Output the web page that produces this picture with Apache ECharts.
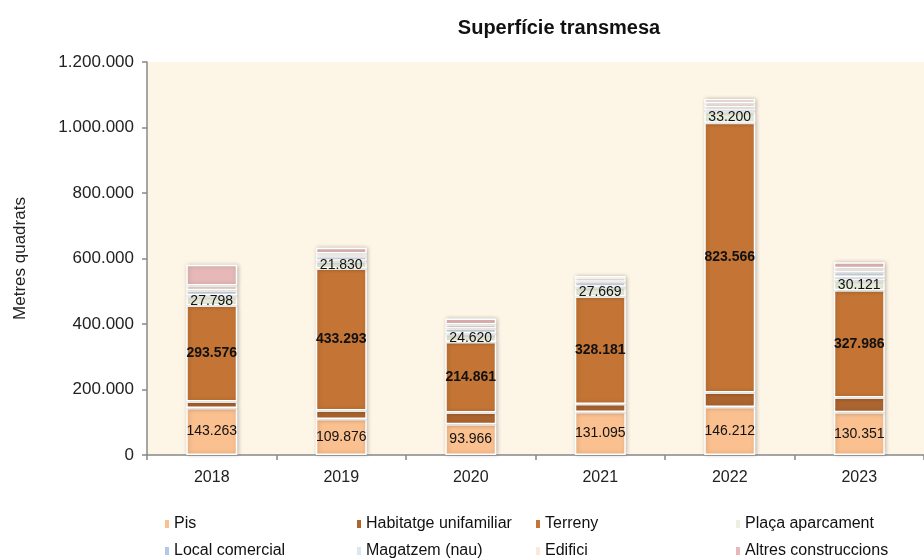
<!DOCTYPE html>
<html>
<head>
<meta charset="utf-8">
<script src="https://cdn.jsdelivr.net/npm/echarts@6/dist/echarts.min.js"></script>
<style>
  html, body { margin: 0; padding: 0; background: #fff; }
  #chart { width: 924px; height: 559px; }
</style>
</head>
<body>
<div id="chart"></div>
<script>
const years = ['2018', '2019', '2020', '2021', '2022', '2023'];
const pis = [143263, 109876, 93966, 131095, 146212, 130351];
const habitatge = [20000, 26000, 36000, 25000, 45000, 45000];
const terreny = [293576, 433293, 214861, 328181, 823566, 327986];
const placa = [27798, 21830, 24620, 27669, 33200, 30121];
const local = [3000, 2000, 2000, 2000, 4000, 10000];
const magatzem = [15000, 12000, 15000, 15000, 10000, 15000];
const edifici = [15000, 10000, 12000, 12000, 13000, 12000];
const altres = [63000, 18000, 18000, 6000, 12000, 18000];

const yTicks = [0, 200000, 400000, 600000, 800000, 1000000, 1200000];

const fmt = v => String(v).replace(/\B(?=(\d{3})+(?!\d))/g, '.');
const fontFamily = 'Liberation Sans, Arial, sans-serif';

const seriesDefs = [
  {name: 'Pis', data: pis, color: '#fac08f', label: 'normal'},
  {name: 'Habitatge unifamiliar', data: habitatge, color: '#ad652f'},
  {name: 'Terreny', data: terreny, color: '#c47535', label: 'bold'},
  {name: 'Plaça aparcament', data: placa, color: '#ebf1de', label: 'normal'},
  {name: 'Local comercial', data: local, color: '#b4c7e7'},
  {name: 'Magatzem (nau)', data: magatzem, color: '#dce6f2'},
  {name: 'Edifici', data: edifici, color: '#fde9d9'},
  {name: 'Altres construccions', data: altres, color: '#e6b9b8'},
];

// legend grid: 4 columns x 2 rows
const legendCols = [158, 350, 529, 729];
const legendRows = [511, 538];

const series = seriesDefs.map(def => ({
  name: def.name,
  type: 'bar',
  stack: 'total',
  barWidth: 51,
  data: def.data,
  itemStyle: {
    color: def.color,
    borderColor: '#ffffff',
    borderWidth: 1.5,
    shadowColor: 'rgba(0,0,0,0.22)',
    shadowBlur: 4,
    shadowOffsetX: 1,
    shadowOffsetY: 0,
  },
  label: {
    show: !!def.label,
    position: 'inside',
    color: '#111',
    fontFamily: fontFamily,
    fontSize: 14,
    fontWeight: def.label === 'bold' ? 'bold' : 'normal',
    formatter: p => fmt(p.value),
  },
  emphasis: {disabled: true},
}));

const legends = seriesDefs.map((def, index) => ({
  data: [def.name],
  left: legendCols[index % 4],
  top: legendRows[Math.floor(index / 4)],
  itemWidth: 6,
  itemHeight: 10,
  itemGap: 0,
  icon: 'rect',
  selectedMode: false,
  textStyle: {fontFamily: fontFamily, fontSize: 16, color: '#111', padding: [0, 0, 0, -1]},
}));

const chart = echarts.init(document.getElementById('chart'), null, {renderer: 'canvas'});
chart.setOption({
  animation: false,
  backgroundColor: '#ffffff',
  title: {
    text: 'Superfície transmesa',
    left: 554,
    top: 13,
    textAlign: 'center',
    textStyle: {fontFamily: fontFamily, fontSize: 20, fontWeight: 'bold', color: '#111'},
  },
  grid: {
    left: 147,
    right: -4,
    top: 62,
    bottom: 104,
    show: true,
    backgroundColor: '#fdf5e6',
    borderWidth: 0,
  },
  legend: legends,
  xAxis: {
    type: 'category',
    data: years,
    axisLine: {lineStyle: {color: '#888', width: 1.5}},
    axisTick: {show: true, alignWithLabel: false, length: 5, lineStyle: {color: '#888', width: 1.5}},
    axisLabel: {color: '#222', fontFamily: fontFamily, fontSize: 16, margin: 15},
  },
  yAxis: {
    type: 'value',
    min: yTicks[0],
    max: yTicks[yTicks.length - 1],
    interval: yTicks[1] - yTicks[0],
    name: 'Metres quadrats',
    nameLocation: 'middle',
    nameRotate: 90,
    nameGap: 118,
    nameTextStyle: {fontFamily: fontFamily, fontSize: 17, color: '#222'},
    splitLine: {show: false},
    axisLine: {show: true, lineStyle: {color: '#888', width: 1.5}},
    axisTick: {show: true, length: 5, lineStyle: {color: '#888', width: 1.5}},
    axisLabel: {color: '#222', fontFamily: fontFamily, fontSize: 17, margin: 13, formatter: v => fmt(v)},
  },
  series: series,
});
</script>
</body>
</html>
